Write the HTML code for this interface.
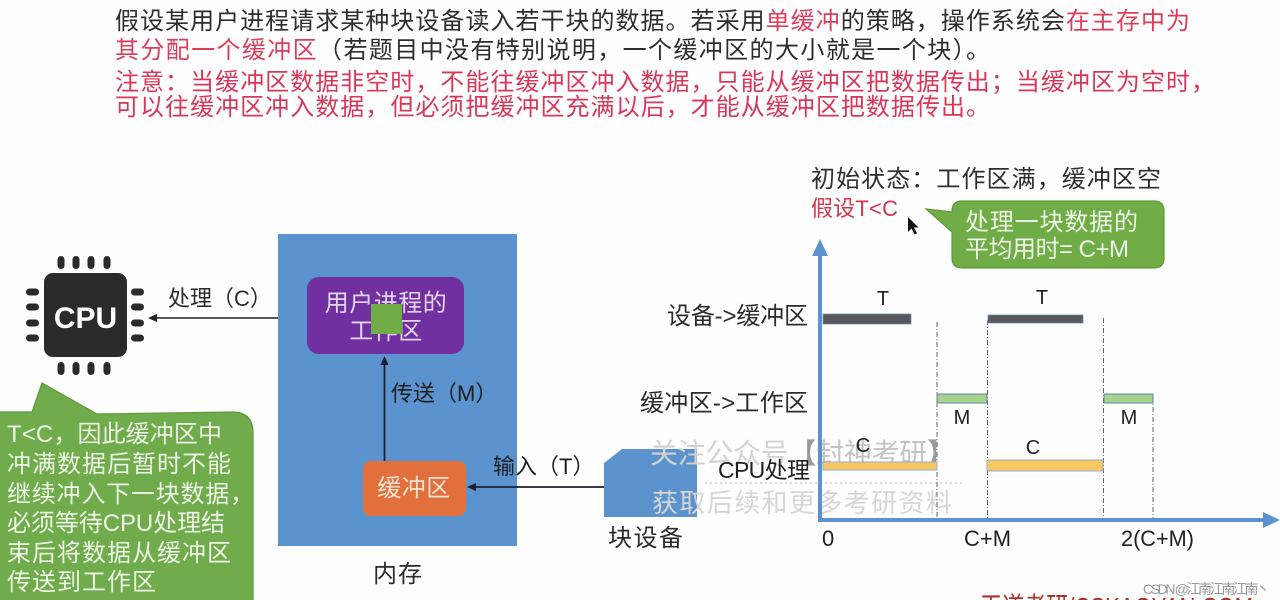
<!DOCTYPE html>
<html>
<head>
<meta charset="utf-8">
<style>
  html, body { margin: 0; padding: 0; background: #ffffff; }
  body { width: 1280px; height: 600px; overflow: hidden; }
  svg { display: block; }
  text { font-family: "Liberation Sans", "Noto Sans CJK SC", sans-serif; }
</style>
</head>
<body>
<svg width="1280" height="600" viewBox="0 0 1280 600" xmlns="http://www.w3.org/2000/svg">
  <rect x="0" y="0" width="1280" height="600" fill="#fefefe"/>

  <!-- Top paragraph -->
  <text x="115" y="29" font-size="24" fill="#2e2e2e" textLength="1075" lengthAdjust="spacing">假设某用户进程请求某种块设备读入若干块的数据。若采用<tspan fill="#dc3d5c">单缓冲</tspan>的策略，操作系统会<tspan fill="#dc3d5c">在主存中为</tspan></text>
  <text x="115" y="58" font-size="24" fill="#2e2e2e" textLength="875" lengthAdjust="spacing"><tspan fill="#dc3d5c">其分配一个缓冲区</tspan>（若题目中没有特别说明，一个缓冲区的大小就是一个块）。</text>
  <text x="115" y="90" font-size="24" fill="#d9375a" textLength="1100" lengthAdjust="spacing">注意：当缓冲区数据非空时，不能往缓冲区冲入数据，只能从缓冲区把数据传出；当缓冲区为空时，</text>
  <text x="115" y="115" font-size="24" fill="#d9375a" textLength="875" lengthAdjust="spacing">可以往缓冲区冲入数据，但必须把缓冲区充满以后，才能从缓冲区把数据传出。</text>

  <!-- CPU chip -->
  <g fill="#2b2b2b">
    <rect x="44" y="273" width="83" height="84" rx="9"/>
    <rect x="57.5" y="256" width="7" height="13" rx="3.5"/>
    <rect x="72.5" y="256" width="7" height="13" rx="3.5"/>
    <rect x="87.5" y="256" width="7" height="13" rx="3.5"/>
    <rect x="103.5" y="256" width="7" height="13" rx="3.5"/>
    <rect x="57.5" y="362" width="7" height="13" rx="3.5"/>
    <rect x="72.5" y="362" width="7" height="13" rx="3.5"/>
    <rect x="87.5" y="362" width="7" height="13" rx="3.5"/>
    <rect x="103.5" y="362" width="7" height="13" rx="3.5"/>
    <rect x="26" y="288.5" width="13" height="7" rx="3.5"/>
    <rect x="26" y="303.5" width="13" height="7" rx="3.5"/>
    <rect x="26" y="319.5" width="13" height="7" rx="3.5"/>
    <rect x="26" y="334.5" width="13" height="7" rx="3.5"/>
    <rect x="131" y="288.5" width="13" height="7" rx="3.5"/>
    <rect x="131" y="303.5" width="13" height="7" rx="3.5"/>
    <rect x="131" y="319.5" width="13" height="7" rx="3.5"/>
    <rect x="131" y="334.5" width="13" height="7" rx="3.5"/>
  </g>
  <text x="85.5" y="328" font-size="30" font-weight="bold" fill="#ffffff" text-anchor="middle">CPU</text>

  <!-- Arrow work area -> CPU -->
  <line x1="306" y1="318" x2="154" y2="318" stroke="#222" stroke-width="1.6"/>
  <polygon points="148,318 157,314 157,322" fill="#222"/>
  <text x="168" y="306" font-size="22" fill="#2b2b2b">处理（C）</text>

  <!-- Memory box -->
  <rect x="278" y="234" width="239" height="312" fill="#5b93cf"/>
  <!-- Work area -->
  <rect x="307" y="277" width="157" height="77" rx="12" fill="#7030a0"/>
  <text x="386" y="311" font-size="24" fill="#e2d4ef" text-anchor="middle" letter-spacing="0.5">用户进程的</text>
  <text x="386" y="339" font-size="24" fill="#e2d4ef" text-anchor="middle" letter-spacing="0.5">工作区</text>
  <rect x="371" y="304" width="31" height="30" fill="#70ad47"/>

  <!-- Transfer arrow -->
  <line x1="384.5" y1="461" x2="384.5" y2="362" stroke="#1e1e2e" stroke-width="1.8"/>
  <polygon points="384.5,356 380.5,365 388.5,365" fill="#1e1e2e"/>
  <text x="391" y="401" font-size="22" fill="#1f1f1f">传送（M）</text>

  <!-- Buffer -->
  <rect x="363" y="461" width="103" height="55" rx="8" fill="#e2703c"/>
  <text x="414" y="496" font-size="24" fill="#f8e2d6" text-anchor="middle" letter-spacing="0.5">缓冲区</text>

  <!-- Input arrow -->
  <line x1="625" y1="487" x2="474" y2="487" stroke="#1e1e2e" stroke-width="1.8"/>
  <polygon points="467,487 476,483 476,491" fill="#1e1e2e"/>
  <text x="493" y="474" font-size="22" fill="#1f1f1f">输入（T）</text>

  <!-- Block device -->
  <polygon points="604,463 622,449 697,449 697,517 604,517" fill="#5b93cf"/>
  <text x="608" y="546" font-size="24" fill="#2b2b2b" textLength="75" lengthAdjust="spacing">块设备</text>
  <text x="373" y="582" font-size="24" fill="#2b2b2b" textLength="49" lengthAdjust="spacing">内存</text>

  <!-- Left green callout -->
  <path d="M -2 412 L 32 412 L 42 383 L 97 414 L 232 412 Q 253 412 253 433 L 253 610 L -2 610 Z" fill="#71ac4c" stroke="#5c9a3a" stroke-width="1.2"/>
  <g font-size="24" fill="#edf5e6">
    <text x="7" y="442" textLength="215" lengthAdjust="spacing">T&lt;C，因此缓冲区中</text>
    <text x="7" y="472" textLength="224" lengthAdjust="spacing">冲满数据后暂时不能</text>
    <text x="7" y="502" textLength="247" lengthAdjust="spacing">继续冲入下一块数据，</text>
    <text x="7" y="531" textLength="218" lengthAdjust="spacing">必须等待CPU处理结</text>
    <text x="7" y="561" textLength="224" lengthAdjust="spacing">束后将数据从缓冲区</text>
    <text x="7" y="590" textLength="149" lengthAdjust="spacing">传送到工作区</text>
  </g>

  <!-- Watermark -->
  <text x="650" y="463" font-size="28" fill="#d2d2d2" textLength="305" lengthAdjust="spacing">关注公众号<tspan fill="#9a9a9a">【</tspan><tspan fill="#c4c4c4">封神考研</tspan><tspan fill="#9a9a9a">】</tspan></text>
  <line x1="705" y1="483" x2="963" y2="483" stroke="#c8c8c8" stroke-width="1.2" stroke-dasharray="2 3"/>
  <text x="652" y="512" font-size="26" fill="#d6d6d6" font-family="'Noto Serif CJK SC', serif" textLength="300" lengthAdjust="spacing">获取后续和更多考研资料</text>

  <!-- Top right texts -->
  <text x="811" y="187" font-size="24" fill="#2e2e2e" textLength="350" lengthAdjust="spacing">初始状态：工作区满，缓冲区空</text>
  <text x="811" y="216" font-size="22" fill="#d6334f" textLength="87" lengthAdjust="spacing">假设T&lt;C</text>
  <!-- cursor -->
  <polygon points="908,217 908,232 911.5,228.5 914.5,234.5 917,233.3 914,227.5 918.5,227.5" fill="#111"/>

  <!-- Right green callout -->
  <path d="M 962 201 L 1154 201 Q 1164 201 1164 211 L 1164 258 Q 1164 268 1154 268 L 962 268 Q 952 268 952 258 L 952 232 L 926 209 L 952 212 L 952 211 Q 952 201 962 201 Z" fill="#70ad47" stroke="#5e9a3c" stroke-width="1.2"/>
  <text x="965" y="230" font-size="24" fill="#eef6e8" textLength="173" lengthAdjust="spacing">处理一块数据的</text>
  <text x="965" y="257" font-size="24" fill="#eef6e8" textLength="164" lengthAdjust="spacing">平均用时= C+M</text>

  <!-- Chart row labels -->
  <text x="667" y="324" font-size="24" fill="#2b2b2b" textLength="141" lengthAdjust="spacing">设备-&gt;缓冲区</text>
  <text x="640" y="411" font-size="24" fill="#2b2b2b" textLength="168" lengthAdjust="spacing">缓冲区-&gt;工作区</text>
  <text x="718" y="478" font-size="23" fill="#1f1f1f" textLength="92" lengthAdjust="spacing">CPU处理</text>

  <!-- Dashed guide lines -->
  <g stroke="#666" stroke-width="1" stroke-dasharray="5 2 1 2" fill="none">
    <line x1="937" y1="322" x2="937" y2="519"/>
    <line x1="987.5" y1="320" x2="987.5" y2="519"/>
    <line x1="1103.5" y1="318" x2="1103.5" y2="519"/>
    <line x1="1153" y1="397" x2="1153" y2="519"/>
  </g>

  <!-- Bars -->
  <rect x="823" y="314" width="88" height="10" fill="#58585c" stroke="#6f8fae" stroke-width="0.8"/>
  <rect x="988" y="315" width="95" height="8" fill="#58585c" stroke="#6f8fae" stroke-width="0.8"/>
  <rect x="937" y="394" width="50" height="9" fill="#a9d18e" stroke="#5d88a8" stroke-width="1"/>
  <rect x="1104" y="394" width="49" height="9" fill="#a9d18e" stroke="#5d88a8" stroke-width="1"/>
  <rect x="823" y="462" width="114" height="8" fill="#f6c85f" stroke="#8fb0d0" stroke-width="1"/>
  <rect x="987" y="460" width="116" height="11" fill="#f6c85f" stroke="#8fb0d0" stroke-width="1"/>

  <!-- Bar labels -->
  <g font-size="20" fill="#1f1f1f" text-anchor="middle">
    <text x="883" y="305">T</text>
    <text x="1042" y="304">T</text>
    <text x="962" y="424">M</text>
    <text x="1129" y="424">M</text>
    <text x="863" y="452">C</text>
    <text x="1033" y="454">C</text>
  </g>

  <!-- Axes -->
  <line x1="820" y1="522" x2="820" y2="254" stroke="#5b93cf" stroke-width="4"/>
  <polygon points="820,239 812,256 828,256" fill="#5b93cf"/>
  <line x1="818" y1="520" x2="1265" y2="520" stroke="#5b93cf" stroke-width="4"/>
  <polygon points="1280,520 1263,512 1263,528" fill="#5b93cf"/>

  <!-- Axis labels -->
  <text x="822" y="546" font-size="22" fill="#1f1f1f">0</text>
  <text x="964" y="546" font-size="22" fill="#1f1f1f" textLength="47" lengthAdjust="spacingAndGlyphs">C+M</text>
  <text x="1121" y="546" font-size="22" fill="#1f1f1f" textLength="73" lengthAdjust="spacingAndGlyphs">2(C+M)</text>

  <!-- Footer -->
  <text x="1143" y="594" font-size="14" fill="#9a9a9a" textLength="127" lengthAdjust="spacing">CSDN @江南江南江南丶</text>
  <text x="980" y="617" font-size="28" fill="#a8332c" textLength="273" lengthAdjust="spacingAndGlyphs">王道考研/CSKAOYAN.COM</text>
</svg>
</body>
</html>
